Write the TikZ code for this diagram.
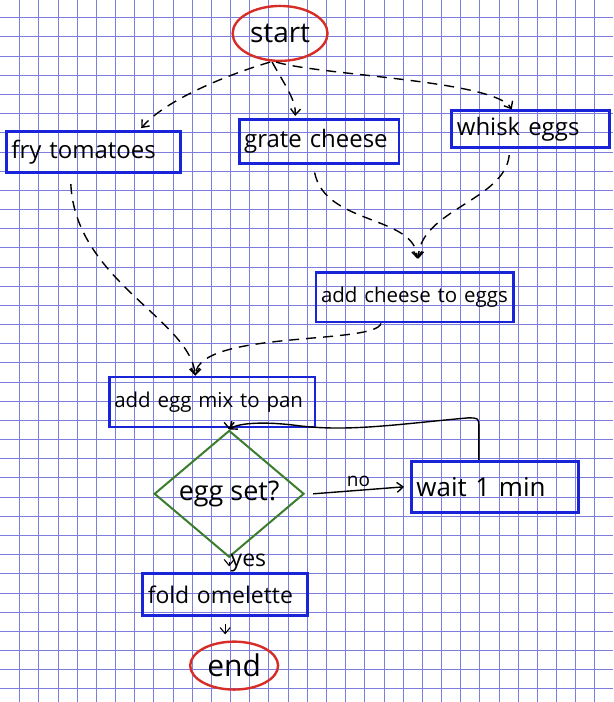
\documentclass[tikz,border=0pt]{standalone}
\usepackage{fontspec}
\setmainfont{Open Sans}
\usetikzlibrary{arrows.meta,shapes.geometric,calc}
\definecolor{gridc}{RGB}{125,125,222}
\definecolor{boxblue}{RGB}{25,35,215}
\definecolor{dgreen}{RGB}{60,125,45}
\definecolor{ored}{RGB}{215,45,40}
\tikzset{
 gridline/.style={draw=gridc,line width=0.9pt},
 stepbox/.style={draw=boxblue,line width=2.8pt,inner xsep=5pt,inner ysep=2pt,align=left,text width=#1-10pt,font=\fontsize{24}{28}\selectfont},
 termnode/.style={draw=ored,ellipse,line width=2.4pt,inner sep=1pt},
 decnode/.style={draw=dgreen,diamond,line width=2pt,inner sep=0pt,font=\fontsize{27}{30}\selectfont},
 flow/.style={black,line width=1.4pt,-{Straight Barb[length=6pt,width=10pt]}},
 dflow/.style={flow,dash pattern=on 10pt off 7pt},
 lab/.style={font=\fontsize{19}{22}\selectfont}
}
\begin{document}
\begin{tikzpicture}[x=1pt,y=-1pt]
\fill[white] (0,0) rectangle (613,702);
\foreach \i in {1,...,31} \draw[gridline] ({\i*19.2},0) -- ({\i*19.2},702);
\foreach \j in {0,...,35} \draw[gridline] (0,{17.3+\j*19.2}) -- (613,{17.3+\j*19.2});
\useasboundingbox (0,0) rectangle (613,702);

\node[termnode,minimum width=95,minimum height=55,font=\fontsize{28}{32}\selectfont] (start) at (280,33) {start};
\node[stepbox=174pt,minimum height=41] (fry) at (93,152) {fry tomatoes};
\node[stepbox=160pt,minimum height=44] (grate) at (319,141) {grate cheese};
\node[stepbox=158pt,minimum height=37] (whisk) at (531,129) {whisk eggs};
\node[stepbox=198pt,minimum height=50,font=\fontsize{20.5}{24}\selectfont] (addc) at (415,297) {add cheese to eggs};
\node[stepbox=206pt,minimum height=50,font=\fontsize{20.5}{24}\selectfont] (adde) at (212,402) {add egg mix to pan};
\node[decnode,minimum width=150,minimum height=110] (set) at (229,494) {egg set?};
\node[stepbox=167pt,minimum height=51,font=\fontsize{26}{30}\selectfont] (wait) at (495,487) {wait 1 min};
\node[stepbox=165pt,minimum height=42,font=\fontsize{23}{27}\selectfont] (fold) at (225,595) {fold omelette};
\node[termnode,minimum width=88,minimum height=48,font=\fontsize{30}{34}\selectfont] (end) at (234,666) {end};

\draw[dflow,shorten >=3pt] ([xshift=-10]start.south) .. controls (225,75) and (165,100) .. ([xshift=46]fry.north);
\draw[dflow,shorten >=2pt] ([xshift=-8]start.south) .. controls (285,85) and (296,100) .. ([xshift=-24]grate.north);
\draw[dflow] ([xshift=-4]start.south) .. controls (320,75) and (495,80) .. ([xshift=-19]whisk.north);
\draw[dflow,shorten <=8pt,shorten >=12pt] ([xshift=-6]grate.south) .. controls (325,225) and (415,215) .. ([xshift=3]addc.north);
\draw[dflow,shorten <=6pt,shorten >=12pt] ([xshift=-21]whisk.south) .. controls (505,200) and (420,210) .. ([xshift=3]addc.north);
\draw[dflow,shorten <=10pt] ([xshift=-23]fry.south) .. controls (75,280) and (190,320) .. ([xshift=-17]adde.north);
\draw[dflow] ([xshift=-34]addc.south) .. controls (375,345) and (200,330) .. ([xshift=-17]adde.north);

\draw[flow] (adde.south -| set.north) -- (set.north);
\draw[flow] ([xshift=-16]wait.north) -- ([xshift=-16]wait.north |- 0,428) .. controls (479,418) .. (468,418)
  .. controls (400,424) and (350,432) .. (300,426) .. controls (255,420) and (235,425) .. (set.north);
\draw[flow] ([xshift=8]set.east) -- ([xshift=-6]wait.west) node[midway,above,lab] {no};
\draw[flow,line width=1.1pt,shorten <=4pt,shorten >=6pt] (set.south) -- (set.south |- fold.north) node[midway,right,inner sep=1pt,yshift=2pt,font=\fontsize{23}{26}\selectfont] {yes};
\draw[flow,line width=1.1pt,shorten <=7pt,shorten >=6pt] (fold.south) -- (fold.south |- end.north);
\end{tikzpicture}
\end{document}
